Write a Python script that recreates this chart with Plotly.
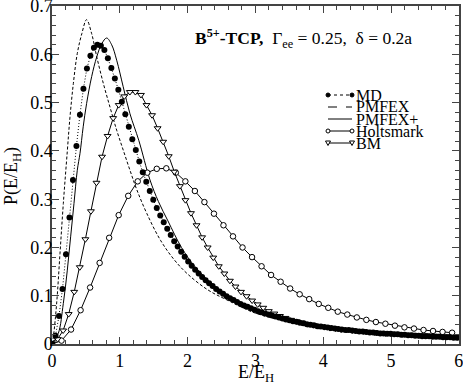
import plotly.graph_objects as go

# ---------------- data ----------------
md_step = 0.0515
md_y = [0.0, 0.017, 0.058, 0.114, 0.186, 0.262, 0.34, 0.41, 0.475, 0.529,
        0.571, 0.597, 0.614, 0.620, 0.618, 0.609, 0.592, 0.572, 0.550, 0.527,
        0.502, 0.476, 0.45, 0.424, 0.402, 0.378, 0.356, 0.336, 0.317,
        0.299, 0.282, 0.266, 0.252, 0.239, 0.226, 0.213, 0.202, 0.191, 0.181,
        0.171, 0.162, 0.154, 0.146, 0.139, 0.132, 0.126, 0.120, 0.114, 0.109,
        0.104, 0.099, 0.095, 0.091, 0.087, 0.083, 0.080, 0.077, 0.074, 0.071,
        0.068, 0.066, 0.063, 0.061, 0.059, 0.057, 0.055, 0.053, 0.051, 0.049,
        0.047, 0.046, 0.044, 0.043, 0.041, 0.040, 0.039, 0.037, 0.036, 0.035,
        0.034, 0.033, 0.032, 0.031, 0.030, 0.029, 0.029, 0.028, 0.027, 0.026,
        0.026, 0.025, 0.024, 0.024, 0.023, 0.022, 0.022, 0.021, 0.021, 0.020,
        0.020, 0.019, 0.019, 0.018, 0.018, 0.017, 0.017, 0.016, 0.016, 0.016,
        0.015, 0.015, 0.015, 0.014, 0.014, 0.014, 0.013, 0.013]
md_x = [round(i * md_step, 4) for i in range(len(md_y))]

pmfex_x = [0, 0.02, 0.069, 0.118, 0.167, 0.226, 0.265, 0.315, 0.373, 0.44,
           0.51, 0.585, 0.66, 0.757, 0.855, 0.954, 1.05, 1.15, 1.25, 1.4,
           1.6, 1.8, 2.0, 2.3, 2.6, 3.0, 3.5, 4.0, 4.5, 5.0, 5.5, 6.0]
pmfex_y = [0, 0.015, 0.085, 0.188, 0.291, 0.40, 0.47, 0.54, 0.602, 0.643,
           0.672, 0.643, 0.595, 0.54, 0.491, 0.443, 0.402, 0.36, 0.32, 0.27,
           0.215, 0.175, 0.145, 0.112, 0.09, 0.064, 0.046, 0.034, 0.026, 0.020,
           0.016, 0.013]

pmfexp_x = [0, 0.093, 0.167, 0.226, 0.275, 0.324, 0.373, 0.413, 0.46, 0.51,
            0.585, 0.66, 0.733, 0.806, 0.88, 0.954, 1.05, 1.15, 1.28, 1.445,
            1.57, 1.71, 1.91, 2.11, 2.4, 2.7, 3.0, 3.5, 4.0, 4.5, 5.0, 5.5, 6.0]
pmfexp_y = [0, 0.022, 0.084, 0.153, 0.222, 0.291, 0.36, 0.395, 0.45, 0.498,
            0.554, 0.595, 0.622, 0.634, 0.62, 0.588, 0.533, 0.477, 0.422, 0.34,
            0.295, 0.255, 0.20, 0.16, 0.12, 0.092, 0.071, 0.05, 0.036, 0.027,
            0.021, 0.017, 0.014]

holt_step = 0.1405
holt_y = [0.0, 0.007, 0.03, 0.07, 0.117, 0.168, 0.22, 0.267, 0.307, 0.337,
          0.355, 0.363, 0.364, 0.355, 0.337, 0.317, 0.294, 0.270, 0.246, 0.223,
          0.200, 0.180, 0.161, 0.143, 0.129, 0.115, 0.103, 0.093, 0.083, 0.075,
          0.067, 0.061, 0.055, 0.050, 0.0455, 0.042, 0.038, 0.0345, 0.032, 0.029,
          0.027, 0.025, 0.0234]
holt_x = [round(i * holt_step, 4) for i in range(len(holt_y))]

bm_step = 0.082
bm_y = [0.0, 0.010, 0.028, 0.062, 0.108, 0.159, 0.217, 0.275, 0.334, 0.388,
        0.431, 0.468, 0.495, 0.513, 0.522, 0.522, 0.516, 0.495, 0.474, 0.447,
        0.419, 0.389, 0.357, 0.327, 0.298, 0.271, 0.246, 0.221, 0.200, 0.179,
        0.161, 0.146, 0.131, 0.119, 0.108, 0.099, 0.090, 0.082, 0.075, 0.068,
        0.063, 0.058, 0.054, 0.050, 0.047, 0.044, 0.041, 0.039, 0.037, 0.035,
        0.033, 0.032, 0.030, 0.029, 0.028, 0.027, 0.026, 0.025, 0.024, 0.023,
        0.022, 0.021, 0.021, 0.020, 0.019, 0.019, 0.018, 0.018, 0.017, 0.017,
        0.016, 0.016, 0.015, 0.015]
bm_x = [round(i * bm_step, 4) for i in range(len(bm_y))]

x_ticks = [0, 1, 2, 3, 4, 5, 6]
y_ticks = [0, 0.1, 0.2, 0.3, 0.4, 0.5, 0.6, 0.7]
y_tick_text = ["0", "0.1", "0.2", "0.3", "0.4", "0.5", "0.6", "0.7"]
legend_names = ["MD", "PMFEX", "PMFEX+", "Holtsmark", "BM"]

FONT = "Liberation Serif"
W, H = 463, 388
ML, MR, MT, MB = 52, 4, 6, 44
PW, PH = W - ML - MR, H - MT - MB

fig = go.Figure()
fig.add_trace(go.Scatter(x=pmfex_x, y=pmfex_y, mode="lines", line_shape="spline",
                         line=dict(color="black", width=1, dash="3px,2px"), name="PMFEX"))
fig.add_trace(go.Scatter(x=pmfexp_x, y=pmfexp_y, mode="lines", line_shape="spline",
                         line=dict(color="black", width=1), name="PMFEX+"))
fig.add_trace(go.Scatter(x=holt_x, y=holt_y, mode="lines+markers",
                         line=dict(color="black", width=1),
                         marker=dict(symbol="circle", size=5.5, color="white",
                                     line=dict(color="black", width=1)), name="Holtsmark"))
fig.add_trace(go.Scatter(x=bm_x, y=bm_y, mode="lines+markers",
                         line=dict(color="black", width=1),
                         marker=dict(symbol="triangle-down", size=6, color="white",
                                     line=dict(color="black", width=1)), name="BM"))
fig.add_trace(go.Scatter(x=md_x, y=md_y, mode="lines+markers",
                         line=dict(color="black", width=1, dash="1px,2px"),
                         marker=dict(symbol="circle", size=6, color="black"), name="MD"))

axis_common = dict(showgrid=False, zeroline=False, showline=True, linecolor="#444",
                   linewidth=1.5, mirror="ticks", ticks="inside", ticklen=7,
                   tickwidth=1, tickcolor="#444", ticklabeloverflow="allow",
                   automargin=False,
                   tickfont=dict(family=FONT, size=18, color="black"))
fig.update_xaxes(range=[0, 6.003], tickvals=x_ticks, ticktext=[str(v) for v in x_ticks],
                 ticklabelstandoff=0,
                 minor=dict(ticks="inside", ticklen=4, dtick=0.2, tickcolor="#444"),
                 **axis_common)
fig.update_yaxes(range=[0, 0.7003], tickvals=y_ticks, ticktext=y_tick_text,
                 ticklabelstandoff=-6,
                 minor=dict(ticks="inside", ticklen=4, dtick=0.02, tickcolor="#444"),
                 **axis_common)

def px_x(p):
    return (p - ML) / PW

def px_y(p):
    return (H - MB - p) / PH

annotations = [
    dict(xref="paper", yref="paper", x=px_x(193), y=px_y(38), xanchor="left", yanchor="middle",
         showarrow=False, font=dict(family=FONT, size=17.5, color="black"),
         text="<b>B<sup>5+</sup>-TCP,</b>\u00a0 Γ<sub>ee</sub> = 0.25,\u00a0 δ = 0.2a"),
    dict(xref="paper", yref="paper", x=px_x(256), y=px_y(373), xanchor="center", yanchor="middle",
         showarrow=False, font=dict(family=FONT, size=18, color="black"),
         text="E/E<sub>H</sub>"),
    dict(xref="paper", yref="paper", x=px_x(12), y=px_y(176), xanchor="center", yanchor="middle",
         showarrow=False, textangle=-90, font=dict(family=FONT, size=18, color="black"),
         text="P(E/E<sub>H</sub>)"),
]

shapes = []
rows = [95, 107, 119, 131, 143]
gx0, gx1 = 328, 352
for name, ry in zip(legend_names, rows):
    annotations.append(dict(xref="paper", yref="paper", x=px_x(354), y=px_y(ry),
                            xanchor="left", yanchor="middle", showarrow=False,
                            font=dict(family=FONT, size=16, color="black"), text=name))
    dash = {"MD": "dot", "PMFEX": "dash"}.get(name, "solid")
    shapes.append(dict(type="line", xref="paper", yref="paper", x0=px_x(gx0), x1=px_x(gx1),
                       y0=px_y(ry), y1=px_y(ry), line=dict(color="black", width=1, dash=dash)))
    for gx in (gx0, gx1):
        if name == "MD":
            shapes.append(dict(type="circle", xref="paper", yref="paper", xsizemode="pixel",
                               ysizemode="pixel", xanchor=px_x(gx), yanchor=px_y(ry),
                               x0=-2, x1=2, y0=-2, y1=2, fillcolor="black",
                               line=dict(color="black", width=1)))
        elif name == "Holtsmark":
            shapes.append(dict(type="circle", xref="paper", yref="paper", xsizemode="pixel",
                               ysizemode="pixel", xanchor=px_x(gx), yanchor=px_y(ry),
                               x0=-2, x1=2, y0=-2, y1=2, fillcolor="white",
                               line=dict(color="black", width=1)))
        elif name == "BM":
            shapes.append(dict(type="path", xref="paper", yref="paper", xsizemode="pixel",
                               ysizemode="pixel", xanchor=px_x(gx), yanchor=px_y(ry),
                               path="M -2.5 2 L 2.5 2 L 0 -2.5 Z", fillcolor="white",
                               line=dict(color="black", width=1)))

fig.update_layout(width=W, height=H,
                  margin=dict(l=ML, r=MR, t=MT, b=MB, autoexpand=False),
                  paper_bgcolor="white", plot_bgcolor="white", showlegend=False,
                  annotations=annotations, shapes=shapes,
                  font=dict(family=FONT, color="black"))
fig.write_html("out.html", config={"displayModeBar": False},
               post_script="document.body.style.margin='0';document.body.style.overflow='hidden';")
